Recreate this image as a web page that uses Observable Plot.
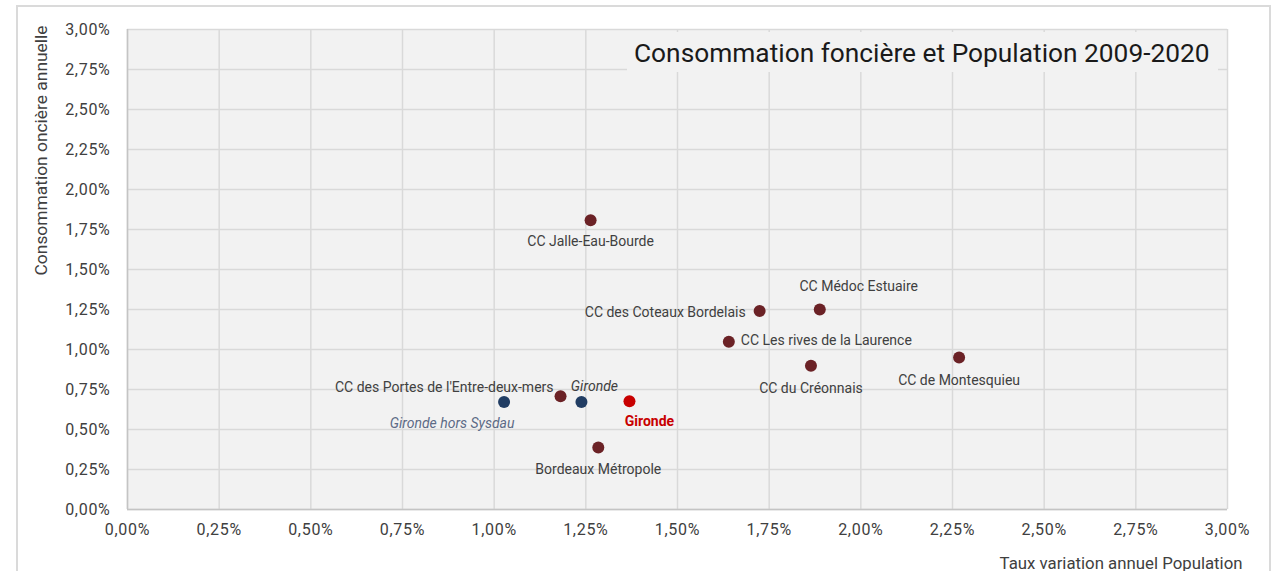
<!DOCTYPE html>
<html><head><meta charset="utf-8">
<script src="https://cdn.jsdelivr.net/npm/d3@7"></script>
<script src="https://cdn.jsdelivr.net/npm/@observablehq/plot@0.6"></script>
<style>
html,body{margin:0;padding:0;background:#fff;overflow:hidden;width:1281px;height:571px}
#wrap{position:relative;width:1281px;height:571px}
#border{position:absolute;left:16px;top:5px;width:1255px;height:620px;border:2px solid #dadada;border-bottom:none;box-sizing:border-box}
#chart{position:absolute;left:0;top:0}
#title{position:absolute;left:627px;top:32px;width:591px;height:40px;background:#f2f2f2;font-family:Roboto,sans-serif;font-size:26.3px;color:#1a1a1a;line-height:43px;padding-left:7px;box-sizing:border-box;white-space:nowrap;overflow:hidden}
svg [aria-label="x-axis tick label"] text, svg [aria-label="y-axis tick label"] text{letter-spacing:0.7px}
</style></head><body>
<div id="wrap"><div id="border"></div><div id="chart"></div><div id="title"></div></div>
<script>
// ---- data ----
const names = [
  "CC Jalle-Eau-Bourde",
  "CC des Coteaux Bordelais",
  "CC Médoc Estuaire",
  "CC Les rives de la Laurence",
  "CC du Créonnais",
  "CC de Montesquieu",
  "CC des Portes de l'Entre-deux-mers",
  "Gironde",
  "Gironde hors Sysdau",
  "Gironde",
  "Bordeaux Métropole"
];
const popGrowth = [1.263, 1.724, 1.888, 1.640, 1.864, 2.268, 1.181, 1.238, 1.027, 1.369, 1.284];
const landUse   = [1.808, 1.240, 1.250, 1.049, 0.898, 0.950, 0.708, 0.672, 0.672, 0.677, 0.388];
const groups    = ["cc","cc","cc","cc","cc","cc","cc","ref","ref","dept","cc"];
const xTicks = [0, 0.25, 0.5, 0.75, 1, 1.25, 1.5, 1.75, 2, 2.25, 2.5, 2.75, 3];
const yTicks = [0, 0.25, 0.5, 0.75, 1, 1.25, 1.5, 1.75, 2, 2.25, 2.5, 2.75, 3];
const titleText = "Consommation foncière et Population 2009-2020";
const xLabel = "Taux variation annuel Population";
const yLabel = "Consommation oncière annuelle";

// ---- styles / layout ----
const colors = {cc: "#6b2226", ref: "#213d63", dept: "#c80000"};
const labelLayout = [
  {dx: 0,   dy: 21,  anchor: "middle"},
  {dx: -14, dy: 1,   anchor: "end"},
  {dx: 39,  dy: -23, anchor: "middle"},
  {dx: 12,  dy: -1,  anchor: "start"},
  {dx: 0,   dy: 23,  anchor: "middle"},
  {dx: 0,   dy: 23,  anchor: "middle"},
  {dx: -7,  dy: -9,  anchor: "end"},
  {dx: 13,  dy: -15, anchor: "middle", style: "italic", fill: "#404040"},
  {dx: -52, dy: 22,  anchor: "middle", style: "italic", fill: "#5d6b86"},
  {dx: 20,  dy: 20,  anchor: "middle", weight: "bold", fill: "#c80000"},
  {dx: 0,   dy: 22,  anchor: "middle"}
];

const fmt = d => d.toFixed(2).replace(".", ",") + "%";
const data = names.map((n, i) => ({name: n, x: popGrowth[i], y: landUse[i], group: groups[i]}));

document.getElementById("title").textContent = titleText;

const labelMarks = data.map((d, i) => {
  const L = labelLayout[i];
  return Plot.text([d], {
    x: "x", y: "y", text: "name",
    dx: L.dx, dy: L.dy, textAnchor: L.anchor,
    fill: L.fill || "#404040",
    fontStyle: L.style || "normal",
    fontWeight: L.weight || "normal",
    fontSize: 14
  });
});

const chart = Plot.plot({
  width: 1281, height: 571,
  marginLeft: 127, marginRight: 54, marginTop: 29, marginBottom: 62,
  style: {fontFamily: "Roboto, sans-serif", background: "transparent", overflow: "visible"},
  x: {domain: [0, 3]},
  y: {domain: [0, 3]},
  color: {type: "identity"},
  marks: [
    Plot.frame({fill: "#f2f2f2", stroke: null}),
    Plot.gridX(xTicks, {stroke: "#d9d9d9", strokeOpacity: 1, strokeWidth: 1.5}),
    Plot.gridY(yTicks, {stroke: "#d9d9d9", strokeOpacity: 1, strokeWidth: 1.5}),
    Plot.ruleX([0], {stroke: "#c4c4c4", strokeWidth: 1.5}),
    Plot.ruleY([0], {stroke: "#c4c4c4", strokeWidth: 1.5}),
    Plot.axisX(xTicks, {tickSize: 0, tickPadding: 14, tickFormat: fmt, fontSize: 16, color: "#404040", label: null}),
    Plot.axisY(yTicks, {tickSize: 0, tickPadding: 17, tickFormat: fmt, fontSize: 16, color: "#404040", label: null}),
    Plot.dot(data, {x: "x", y: "y", r: 6, fill: d => colors[d.group], stroke: null}),
    ...labelMarks,
    Plot.text([yLabel], {frameAnchor: "top-left", dx: -86, dy: -4, rotate: -90, textAnchor: "end", lineAnchor: "middle", fontSize: 17.4, fill: "#404040"}),
    Plot.text([xLabel], {frameAnchor: "bottom-right", dx: 15, dy: 54, textAnchor: "end", lineAnchor: "middle", fontSize: 16.8, fill: "#404040"})
  ]
});
document.getElementById("chart").appendChild(chart);
</script>
</body></html>
